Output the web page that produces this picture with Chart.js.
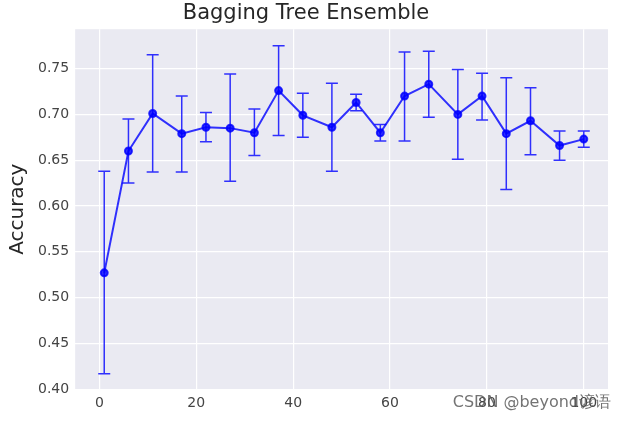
<!DOCTYPE html>
<html>
<head>
<meta charset="utf-8">
<script src="https://cdn.jsdelivr.net/npm/chart.js@4/dist/chart.umd.min.js"></script>
<style>
  html, body { margin: 0; padding: 0; background: #fff; }
  #wrap { width: 626px; height: 422px; }
</style>
</head>
<body>
<div id="wrap"><canvas id="c"></canvas></div>
<script>
const nEstimators = [1, 6, 11, 17, 22, 27, 32, 37, 42, 48, 53, 58, 63, 68, 74, 79, 84, 89, 95, 100];
const accuracy = [0.527, 0.660, 0.701, 0.679, 0.686, 0.685, 0.680, 0.726, 0.699, 0.686,
                  0.713, 0.680, 0.720, 0.733, 0.700, 0.720, 0.679, 0.693, 0.666, 0.673];
const errLow = [0.417, 0.625, 0.637, 0.637, 0.670, 0.627, 0.655, 0.677, 0.675, 0.638,
                0.704, 0.671, 0.671, 0.697, 0.651, 0.694, 0.618, 0.656, 0.650, 0.664];
const errHigh = [0.638, 0.695, 0.765, 0.720, 0.702, 0.744, 0.706, 0.775, 0.723, 0.734,
                 0.722, 0.689, 0.768, 0.769, 0.749, 0.745, 0.740, 0.729, 0.682, 0.682];
const xTicks = [0, 20, 40, 60, 80, 100];
const yTicks = [0.40, 0.45, 0.50, 0.55, 0.60, 0.65, 0.70, 0.75];

const lineColor = 'rgba(0, 0, 255, 0.8)';

// background of plot area, error bars and watermark
const extras = {
    id: 'extras',
    beforeDraw(chart) {
        const { ctx, chartArea: a } = chart;
        ctx.save();
        ctx.fillStyle = '#eaeaf2';
        ctx.fillRect(a.left, a.top, a.right - a.left, a.bottom - a.top);
        ctx.restore();
    },
    afterDatasetsDraw(chart) {
        const { ctx, scales } = chart;
        ctx.save();
        ctx.strokeStyle = lineColor;
        ctx.lineWidth = 1.5;
        nEstimators.forEach((x, i) => {
            const px = scales.x.getPixelForValue(x);
            const lo = scales.y.getPixelForValue(errLow[i]);
            const hi = scales.y.getPixelForValue(errHigh[i]);
            ctx.beginPath();
            ctx.moveTo(px, lo); ctx.lineTo(px, hi);
            ctx.moveTo(px - 6, lo); ctx.lineTo(px + 6, lo);
            ctx.moveTo(px - 6, hi); ctx.lineTo(px + 6, hi);
            ctx.stroke();
        });
        ctx.restore();
    },
    afterDraw(chart) {
        const { ctx } = chart;
        ctx.save();
        ctx.fillStyle = 'rgba(90, 90, 90, 0.85)';
        ctx.font = '16px "DejaVu Sans"';
        ctx.textAlign = 'right';
        ctx.textBaseline = 'middle';
        ctx.fillText('CSDN @beyond谚语', 611, 403);
        ctx.restore();
    }
};

new Chart(document.getElementById('c').getContext('2d'), {
    type: 'line',
    data: {
        datasets: [{
            data: nEstimators.map((x, i) => ({ x: x, y: accuracy[i] })),
            borderColor: lineColor,
            backgroundColor: lineColor,
            borderWidth: 2,
            pointRadius: 3.5,
            pointHoverRadius: 3.5,
            tension: 0
        }]
    },
    plugins: [extras],
    options: {
        responsive: true,
        maintainAspectRatio: false,
        animation: false,
        layout: { padding: { left: 4, right: 18, bottom: 4 } },
        plugins: {
            legend: { display: false },
            tooltip: { enabled: false },
            title: {
                display: true,
                text: 'Bagging Tree Ensemble',
                color: '#262626',
                font: { family: 'DejaVu Sans', size: 21, weight: 'normal' },
                padding: { top: 1, bottom: 3 }
            }
        },
        scales: {
            x: {
                type: 'linear',
                min: -5,
                max: 105,
                afterBuildTicks: axis => { axis.ticks = xTicks.map(v => ({ value: v })); },
                grid: { color: '#ffffff', lineWidth: 1.2, drawTicks: false },
                border: { display: false },
                ticks: { color: '#444', font: { family: 'DejaVu Sans', size: 14 }, padding: 6 }
            },
            y: {
                min: 0.40,
                max: 0.793,
                afterBuildTicks: axis => { axis.ticks = yTicks.map(v => ({ value: v })); },
                grid: { color: '#ffffff', lineWidth: 1.2, drawTicks: false },
                border: { display: false },
                ticks: {
                    color: '#444',
                    font: { family: 'DejaVu Sans', size: 14 },
                    padding: 6,
                    callback: v => v.toFixed(2)
                },
                title: {
                    display: true,
                    text: 'Accuracy',
                    color: '#262626',
                    font: { family: 'DejaVu Sans', size: 20 },
                    padding: 2
                }
            }
        }
    }
});
</script>
</body>
</html>
